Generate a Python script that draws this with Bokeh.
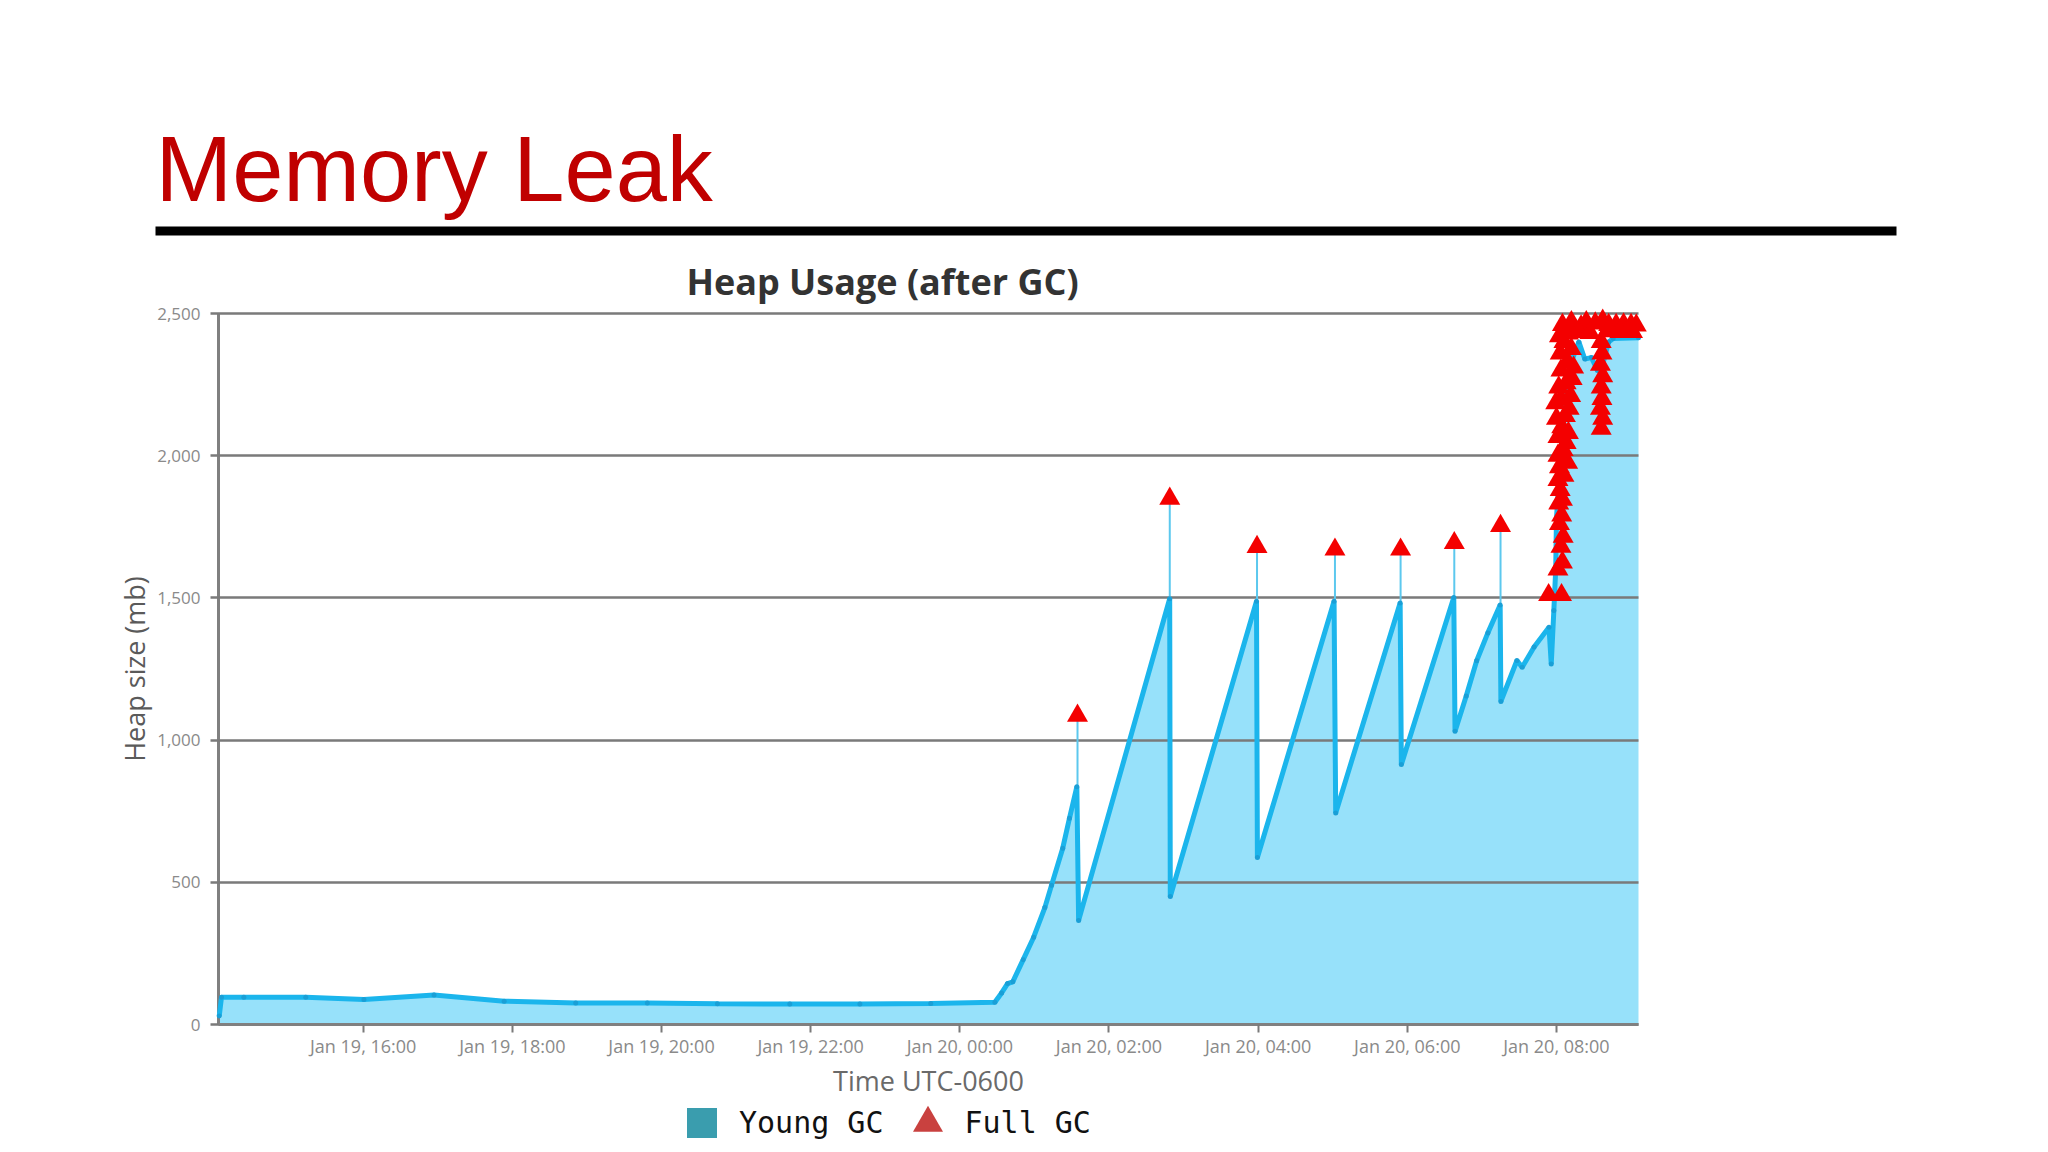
import numpy as np
from bokeh.plotting import figure
from bokeh.models import (Range1d, FixedTicker, NumeralTickFormatter, Label, LinearAxis,
                          Legend, LegendItem, BoxAnnotation)
from bokeh.embed import file_html
from bokeh.resources import INLINE

# ---------------- data (time in hours relative to Jan 20 00:00, UTC-0600; heap in MB) -------------
young_t = [-9.93, -9.90, -9.60, -8.77, -7.99, -7.05, -6.11, -5.15, -4.19, -3.25, -2.28, -1.34, -0.39,
           0.47, 0.56, 0.64, 0.71, 0.85, 0.99, 1.14, 1.23, 1.38, 1.47, 1.569,
           1.593, 2.814,
           2.822, 3.978,
           3.99, 5.018,
           5.04, 5.904,
           5.92, 6.623,
           6.64, 6.79, 6.93, 7.08, 7.245,
           7.255, 7.47, 7.54, 7.70, 7.90, 7.93,
           7.965, 7.99, 8.00, 8.03, 8.10, 8.20, 8.30, 8.38, 8.47, 8.55, 8.62, 8.70, 8.76, 9.10]
young_mb = [30, 96, 96, 96, 88, 104, 82, 76, 76, 73, 72, 72, 74,
            78, 111, 144, 150, 228, 307, 411, 490, 620, 725, 836,
            366, 1497,
            450, 1488,
            587, 1488,
            744, 1482,
            914, 1501,
            1031, 1155, 1279, 1377, 1475,
            1136, 1280, 1256, 1327, 1397, 1268,
            1456, 1600, 1780, 1900, 2150, 2330, 2400, 2340, 2345, 2300, 2320, 2400, 2412, 2415]

full_t = [1.578, 2.815, 3.985, 5.03, 5.91, 6.63, 7.25,
          7.895, 8.068, 8.02, 8.08, 8.06, 8.09, 8.04, 8.07, 8.03, 8.08, 8.05, 8.02,
          8.10, 8.04, 8.15, 8.02, 8.09, 8.13, 8.02, 8.16, 8.07, 8.00, 8.12, 8.17,
          7.99, 8.06, 8.19, 8.03, 8.13, 8.21, 8.06, 8.23, 8.15, 8.05, 8.20, 8.10,
          8.04, 8.16, 8.26,
          8.08, 8.20, 8.33, 8.40, 8.52, 8.62, 8.70, 8.80, 8.90, 9.00, 9.07,
          8.30, 8.45, 8.68, 8.85, 9.02,
          8.60, 8.62, 8.59, 8.61, 8.60, 8.62, 8.59, 8.61, 8.60]
full_mb = [1086, 1849, 1679, 1670, 1670, 1693, 1753,
           1510, 1510, 1600, 1625, 1680, 1715, 1760, 1790, 1832, 1845, 1880, 1915,
           1930, 1960, 1975, 2000, 2020, 2045, 2066, 2080, 2100, 2130, 2140, 2165,
           2185, 2200, 2210, 2240, 2255, 2270, 2300, 2310, 2330, 2360, 2375, 2400,
           2420, 2430, 2440,
           2460, 2470, 2455, 2470, 2465, 2475, 2460, 2460, 2462, 2460, 2458,
           2435, 2432, 2438, 2435, 2435,
           2095, 2130, 2165, 2200, 2240, 2280, 2320, 2360, 2400]

tick_hours = [-8, -6, -4, -2, 0, 2, 4, 6, 8]
tick_labels = ["Jan 19, 16:00", "Jan 19, 18:00", "Jan 19, 20:00", "Jan 19, 22:00",
               "Jan 20, 00:00", "Jan 20, 02:00", "Jan 20, 04:00", "Jan 20, 06:00",
               "Jan 20, 08:00"]
y_ticks = [0, 500, 1000, 1500, 2000, 2500]

slide_title = "Memory Leak"
chart_title = "Heap Usage (after GC)"
x_label = "Time UTC-0600"
y_label = "Heap size (mb)"
series_names = ["Young GC", "Full GC"]

# ---------------- geometry: canvas pixels of the plotting area ----------------
W, H = 2048, 1152
PX_L, PX_R = 218, 1638      # left / right edge of the chart area
PX_T, PX_B = 313, 1024      # top / bottom edge of the chart area
X0, X1 = -9.94, 9.10        # visible time span (hours)
Y0, Y1 = 0, 2500


def dx(px):
    return X0 + (px - PX_L) * (X1 - X0) / (PX_R - PX_L)


def dy(py):
    return Y0 + (PX_B - py) * (Y1 - Y0) / (PX_B - PX_T)


p = figure(width=W, height=H, x_range=Range1d(dx(0), dx(W)), y_range=Range1d(dy(H), dy(0)),
           output_backend="svg", toolbar_location=None,
           x_axis_location=None, y_axis_location=None,
           min_border=0, min_border_left=0, min_border_right=0,
           min_border_top=0, min_border_bottom=0)
p.title.visible = False
p.grid.visible = False
p.outline_line_color = None
p.background_fill_color = "white"

# axes drawn at fixed positions inside the canvas
xaxis = LinearAxis(fixed_location=Y0, bounds=(X0, X1), ticker=FixedTicker(ticks=tick_hours))
xaxis.major_label_overrides = dict(zip(tick_hours, tick_labels))
yaxis = LinearAxis(fixed_location=X0, bounds=(Y0, Y1), ticker=FixedTicker(ticks=y_ticks),
                   formatter=NumeralTickFormatter(format="0,0"), level="underlay")
for ax in (xaxis, yaxis):
    ax.minor_tick_line_color = None
    ax.major_tick_out = 8
    ax.major_tick_line_color = "#7a7a7a"
    ax.axis_line_color = "#808080"
    ax.axis_line_width = 3
    ax.major_label_text_color = "#8a8a8a"
    ax.major_label_text_font = "Open Sans"
    ax.axis_label_text_font = "Open Sans"
    ax.axis_label_text_font_style = "normal"
    ax.axis_label_text_font_size = "27px"
xaxis.major_tick_in = 0
xaxis.major_tick_line_width = 2
xaxis.major_label_text_font_size = "18px"
xaxis.major_label_standoff = 1
xaxis.axis_label = x_label
xaxis.axis_label_text_color = "#6a6a6a"
xaxis.axis_label_standoff = 1
# y ticks reach across the chart and act as horizontal grid lines
yaxis.major_tick_in = PX_R - PX_L
yaxis.major_tick_line_width = 2.5
yaxis.major_label_text_font_size = "17px"
yaxis.major_label_standoff = 10
yaxis.axis_label = y_label
yaxis.axis_label_text_color = "#5a5a5a"
yaxis.axis_label_standoff = 1
p.add_layout(xaxis, "below")
p.add_layout(yaxis, "left")

yt = np.array(young_t, dtype=float)
ym = np.array(young_mb, dtype=float)
ft = np.array(full_t, dtype=float)
fm = np.array(full_mb, dtype=float)

# area under Young GC values (below the grid lines)
p.varea(x=yt, y1=np.zeros_like(ym), y2=ym, fill_color="#97E1FA", level="image")

# thin spikes from the post-GC trough up to each isolated Full GC point
iso = np.array([np.sum(np.abs(ft - t) < 0.2) == 1 for t in ft])
trough = np.array([ym[np.abs(yt - t) < 0.05].min() for t in ft[iso]])
p.segment(x0=ft[iso], y0=trough, x1=ft[iso], y1=fm[iso], line_color="#5CC8EE", line_width=2)

p.line(yt, ym, line_color="#1BB5EC", line_width=5)
p.scatter(yt, ym, size=5, fill_color="#1A9FD6", line_color=None)
p.scatter(ft, fm, marker="triangle", size=21, fill_color="#F40000", line_color=None)

# legend proxies (no visible data)
proxy_y = p.scatter([np.nan], [np.nan], marker="square", size=30, fill_color="#3A9DAE", line_color=None)
proxy_f = p.scatter([np.nan], [np.nan], marker="triangle", size=30, fill_color="#C9413F", line_color=None)
legend = Legend(items=[LegendItem(label=series_names[0], renderers=[proxy_y]),
                       LegendItem(label=series_names[1], renderers=[proxy_f])],
                location=(664, -8), orientation="horizontal",
                glyph_width=75, glyph_height=75, label_standoff=0, spacing=6,
                padding=0, margin=0, border_line_color=None, background_fill_alpha=0,
                label_text_font="DejaVu Sans Mono", label_text_font_size="30px",
                label_text_color="#111111")
p.add_layout(legend)

# slide title, rule and chart title
p.add_layout(Label(x=dx(155), y=dy(168), text=slide_title, text_color="#C00000",
                   text_font="'Liberation Sans Narrow', 'Noto Sans Condensed', 'Liberation Sans'",
                   text_font_size="92px", text_baseline="middle", text_align="left"))
p.add_layout(BoxAnnotation(left=dx(155), right=dx(1896), top=dy(226), bottom=dy(235),
                           fill_color="black", fill_alpha=1.0, line_color=None, level="overlay"))
p.add_layout(Label(x=dx(882), y=dy(281), text=chart_title,
                   text_font="Open Sans", text_font_style="bold", text_font_size="36px",
                   text_color="#333333", text_align="center", text_baseline="middle"))

open("out.html", "w").write(file_html(p, INLINE))
